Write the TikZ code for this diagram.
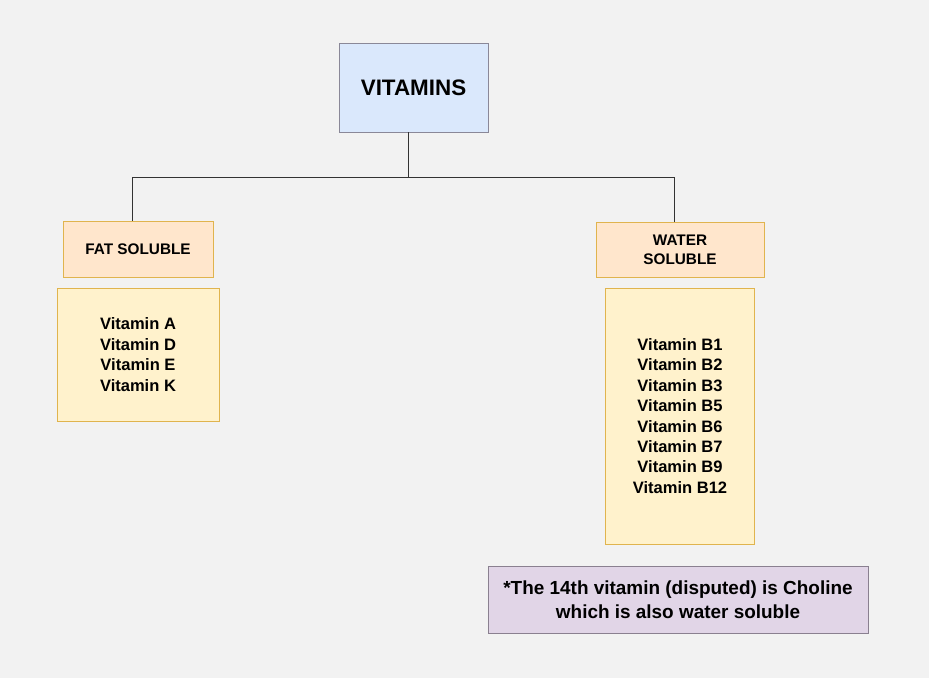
\documentclass[tikz,border=0pt]{standalone}
\usepackage{fontspec}
\setmainfont{Liberation Sans}
\usepackage{xcolor}
\usetikzlibrary{positioning}

\definecolor{bgcol}{HTML}{F2F2F2}
\definecolor{topfill}{HTML}{DAE8FC}
\definecolor{topline}{HTML}{8A8898}
\definecolor{headfill}{HTML}{FFE6CC}
\definecolor{listfill}{HTML}{FFF2CC}
\definecolor{yelline}{HTML}{E0B44E}
\definecolor{notefill}{HTML}{E1D5E7}
\definecolor{noteline}{HTML}{8A8090}

\begin{document}
\begin{tikzpicture}[
  x=0.75pt, y=-0.75pt,
  node distance=0mm,
  box/.style={draw, outer sep=0pt, inner sep=0pt, align=center, font=\bfseries},
  head/.style={box, fill=headfill, draw=yelline, font=\bfseries\fontsize{11.5}{14}\selectfont},
  list/.style={box, fill=listfill, draw=yelline, font=\bfseries\fontsize{12.4}{15.3}\selectfont},
  link/.style={draw=black!80, line width=0.75pt}
]
\fill[bgcol] (0,0) rectangle (929,678);
\useasboundingbox (0,0) rectangle (929,678);

\node[box, fill=topfill, draw=topline, minimum width=111.75pt, minimum height=66.75pt,
  font=\bfseries\fontsize{16.8}{20}\selectfont] (vit) at (413.5,87.5) {VITAMINS};

\node[head, minimum width=112.5pt, minimum height=42pt] (fat) at (138,249) {FAT SOLUBLE};
\node[head, minimum width=126pt, minimum height=41.25pt] (water) at (680,249.5) {WATER\\SOLUBLE};

\node[list, below=8.25pt of fat, minimum width=121.5pt, minimum height=99.75pt] (fatlist)
  {Vitamin A\\Vitamin D\\Vitamin E\\Vitamin K};
\node[list, below=8.25pt of water, minimum width=111.75pt, minimum height=192pt] (waterlist)
  {Vitamin B1\\Vitamin B2\\Vitamin B3\\Vitamin B5\\Vitamin B6\\Vitamin B7\\Vitamin B9\\Vitamin B12};

\node[box, fill=notefill, draw=noteline, below=16.5pt of waterlist, xshift=-1.5pt,
  minimum width=285pt, minimum height=50.25pt,
  font=\bfseries\fontsize{14.2}{17.6}\selectfont] (note)
  {*The 14th vitamin (disputed) is Choline\\which is also water soluble};

% tree links
\draw[link] ([xshift=-4.1pt]vit.south) -- ++(0,45) coordinate (bus) -| ([xshift=-4.5pt]fat.north);
\draw[link] (bus) -| ([xshift=-4.5pt]water.north);
\end{tikzpicture}
\end{document}
